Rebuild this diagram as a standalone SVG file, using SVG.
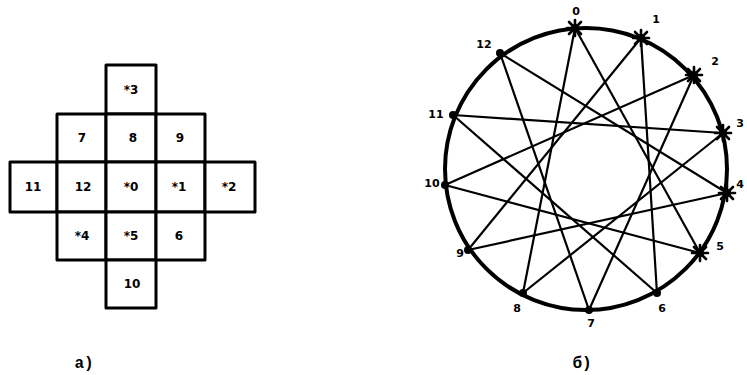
<svg xmlns="http://www.w3.org/2000/svg" width="747" height="375" viewBox="0 0 747 375">
<style>
.cell{fill:#fff;stroke:#000;stroke-width:3;stroke-linejoin:round}
.ct{font-family:"DejaVu Sans",sans-serif;font-weight:bold;font-size:12px;text-anchor:middle;fill:#000}
.pl{font-family:"DejaVu Sans",sans-serif;font-weight:bold;font-size:11px;text-anchor:middle;fill:#000}
.cap{font-family:"Liberation Mono",monospace;font-weight:bold;font-size:16px;text-anchor:middle;fill:#000}
.edge{stroke:#000;stroke-width:2.2;fill:none}
.ring{stroke:#000;stroke-width:4;fill:none}
</style>
<defs>
<g id="star" stroke="#000" stroke-width="2.6" stroke-linecap="round">
<line x1="-8" y1="0" x2="8" y2="0"/><line x1="0" y1="-8" x2="0" y2="8"/>
<line x1="-6" y1="-6" x2="6" y2="6"/><line x1="-6" y1="6" x2="6" y2="-6"/>
<circle r="4" fill="#000" stroke="none"/>
</g>
<circle id="dot" r="4" fill="#000"/>
</defs>
<rect width="747" height="375" fill="#fff"/>

<g id="grid">
<g id="c3"><rect class="cell" x="106" y="65" width="50" height="49"/><text class="ct" x="131" y="94">*3</text></g>
<g id="c7"><rect class="cell" x="57" y="114" width="49" height="48"/><text class="ct" x="82" y="142">7</text></g>
<g id="c8"><rect class="cell" x="106" y="114" width="50" height="48"/><text class="ct" x="133" y="142">8</text></g>
<g id="c9"><rect class="cell" x="156" y="114" width="49" height="48"/><text class="ct" x="180" y="142">9</text></g>
<g id="c11"><rect class="cell" x="10" y="162" width="47" height="50"/><text class="ct" x="33" y="191">11</text></g>
<g id="c12"><rect class="cell" x="57" y="162" width="49" height="50"/><text class="ct" x="83" y="191">12</text></g>
<g id="c0"><rect class="cell" x="106" y="162" width="50" height="50"/><text class="ct" x="131" y="191">*0</text></g>
<g id="c1"><rect class="cell" x="156" y="162" width="49" height="50"/><text class="ct" x="179" y="191">*1</text></g>
<g id="c2"><rect class="cell" x="205" y="162" width="50" height="50"/><text class="ct" x="229" y="191">*2</text></g>
<g id="c4"><rect class="cell" x="57" y="212" width="49" height="48"/><text class="ct" x="82" y="240">*4</text></g>
<g id="c5"><rect class="cell" x="106" y="212" width="50" height="48"/><text class="ct" x="131" y="240">*5</text></g>
<g id="c6"><rect class="cell" x="156" y="212" width="49" height="48"/><text class="ct" x="179" y="240">6</text></g>
<g id="c10"><rect class="cell" x="106" y="260" width="50" height="48"/><text class="ct" x="132" y="288">10</text></g>
</g>

<circle class="ring" cx="586" cy="169" r="141"/>

<g id="connectors" class="edge">
<line x1="575" y1="28" x2="700" y2="253"/>
<line x1="641" y1="38" x2="657" y2="293"/>
<line x1="694" y1="75" x2="589" y2="310"/>
<line x1="723" y1="133" x2="523" y2="293"/>
<line x1="727" y1="193" x2="468" y2="250"/>
<line x1="700" y1="253" x2="445" y2="185"/>
<line x1="657" y1="293" x2="453" y2="115"/>
<line x1="589" y1="310" x2="500" y2="53"/>
<line x1="523" y1="293" x2="575" y2="28"/>
<line x1="468" y1="250" x2="641" y2="38"/>
<line x1="445" y1="185" x2="694" y2="75"/>
<line x1="453" y1="115" x2="723" y2="133"/>
<line x1="500" y1="53" x2="727" y2="193"/>
</g>

<g id="p0"><use href="#star" x="575" y="28"/><text class="pl" x="576" y="15">0</text></g>
<g id="p1"><use href="#star" x="641" y="38"/><text class="pl" x="656" y="23">1</text></g>
<g id="p2"><use href="#star" x="694" y="75"/><text class="pl" x="715" y="65">2</text></g>
<g id="p3"><use href="#star" x="723" y="133"/><text class="pl" x="740" y="127">3</text></g>
<g id="p4"><use href="#star" x="727" y="193"/><text class="pl" x="740" y="188">4</text></g>
<g id="p5"><use href="#star" x="700" y="253"/><text class="pl" x="720" y="250">5</text></g>
<g id="p6"><use href="#dot" x="657" y="293"/><text class="pl" x="662" y="312">6</text></g>
<g id="p7"><use href="#dot" x="589" y="310"/><text class="pl" x="591" y="327">7</text></g>
<g id="p8"><use href="#dot" x="523" y="293"/><text class="pl" x="517" y="312">8</text></g>
<g id="p9"><use href="#dot" x="468" y="250"/><text class="pl" x="460" y="257">9</text></g>
<g id="p10"><use href="#dot" x="445" y="185"/><text class="pl" x="432" y="187">10</text></g>
<g id="p11"><use href="#dot" x="453" y="115"/><text class="pl" x="436" y="118">11</text></g>
<g id="p12"><use href="#dot" x="500" y="53"/><text class="pl" x="484" y="48">12</text></g>

<text class="cap" x="84" y="368">а)</text>
<text class="cap" x="582" y="368">б)</text>
</svg>
